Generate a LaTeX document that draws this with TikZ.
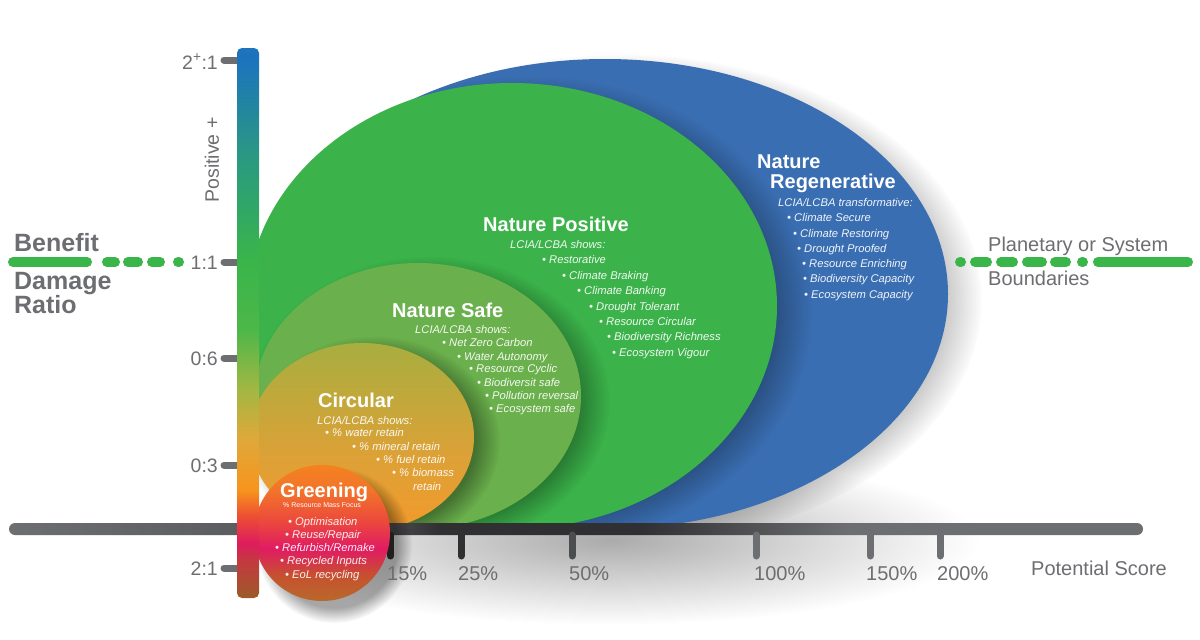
\documentclass[tikz,border=0pt]{standalone}
\usepackage{fontspec}
\setmainfont{Liberation Sans}
\usetikzlibrary{fadings}
\definecolor{axgray}{HTML}{6D6E71}
\definecolor{axdark}{HTML}{303032}
\definecolor{regblue}{HTML}{3A6EB2}
\definecolor{posgreen}{HTML}{3BB34A}
\definecolor{safegreen}{HTML}{6AB04C}
\definecolor{dashgreen}{HTML}{39B54A}
\definecolor{b0}{HTML}{9C5A2A}
\definecolor{b1}{HTML}{C4393F}
\definecolor{b2}{HTML}{DE1C5E}
\definecolor{b3}{HTML}{EE5131}
\definecolor{b4}{HTML}{F7941D}
\definecolor{b5}{HTML}{DFA83A}
\definecolor{b6}{HTML}{A3B743}
\definecolor{b7}{HTML}{4DB749}
\definecolor{b8}{HTML}{39B54A}
\definecolor{b9}{HTML}{2A9A80}
\definecolor{b10}{HTML}{1D74BD}
\definecolor{g0}{HTML}{B8692B}
\definecolor{g1}{HTML}{C6512F}
\definecolor{g2}{HTML}{E01B63}
\definecolor{g3}{HTML}{EC4A3C}
\definecolor{g4}{HTML}{F2742A}
\definecolor{g5}{HTML}{F58220}
\definecolor{c0}{HTML}{F39A2B}
\definecolor{c1}{HTML}{DCA137}
\definecolor{c2}{HTML}{A8AE3F}
\pgfdeclareverticalshading{barshade}{100bp}{color(0bp)=(b0); color(25bp)=(b0); color(28.45bp)=(b1); color(30bp)=(b2); color(32.55bp)=(b3); color(34.8bp)=(b4); color(39.4bp)=(b5); color(43.9bp)=(b6); color(49.4bp)=(b7); color(55.7bp)=(b8); color(64.8bp)=(b9); color(73.9bp)=(b10); color(75bp)=(b10); color(100bp)=(b10)}
\pgfdeclareverticalshading{greenshade}{100bp}{color(0bp)=(g0); color(25bp)=(g0); color(34.3bp)=(g1); color(44.3bp)=(g2); color(54.6bp)=(g3); color(65.7bp)=(g4); color(75bp)=(g5); color(100bp)=(g5)}
\pgfdeclareverticalshading{circshade}{100bp}{color(0bp)=(c0); color(25bp)=(c0); color(45bp)=(c1); color(75bp)=(c2); color(100bp)=(c2)}
\pgfdeclarehorizontalshading{axshade}{100bp}{color(0bp)=(axgray); color(25bp)=(axgray); color(41.4bp)=(axgray!75!black); color(44bp)=(axdark); color(52.8bp)=(axdark); color(62bp)=(axgray); color(75bp)=(axgray); color(100bp)=(axgray)}
\begin{document}
\begin{tikzpicture}[x=1pt,y=-1pt,
  head/.style={font=\fontsize{20}{22}\selectfont\bfseries, text=white, anchor=west, inner sep=0pt},
  item/.style={font=\fontsize{11.2}{13}\selectfont\itshape, text=white, text opacity=.92, anchor=west, inner sep=0pt, text height=8pt, text depth=2pt},
  tinytxt/.style={font=\fontsize{7}{8}\selectfont, text=white, anchor=west, inner sep=0pt},
  ratio/.style={font=\fontsize{19.5}{22}\selectfont, text=axgray, anchor=base east, inner sep=0pt},
  pct/.style={font=\fontsize{20}{22}\selectfont, text=axgray, anchor=base west, inner sep=0pt},
  side/.style={font=\fontsize{20}{22}\selectfont, text=axgray, anchor=base west, inner sep=0pt},
  big/.style={font=\fontsize{25}{28}\selectfont\bfseries, text=axgray, anchor=base west, inner sep=0pt},
  stub/.style={draw=axgray, line width=7pt, line cap=round},
  tick/.style={line width=7pt, line cap=round},
  gline/.style={draw=dashgreen, line width=10pt, line cap=round},
  shadowfx/.style={fill=black, fill opacity=#1, path fading=circle with fuzzy edge 20 percent}
]
\useasboundingbox (0,0) rectangle (1200,640);
\fill[white] (0,0) rectangle (1200,640);

% soft shadow below the axis
\shade[inner color=black!33, outer color=white] (610,540) ellipse (370pt and 85pt);

% nested ellipses
\begin{scope}
\clip (0,0) rectangle (1200,529);
\fill[shadowfx=.40] (622,300) ellipse (360pt and 246pt);
\fill[regblue] (605,294) ellipse (343pt and 235pt);
\fill[shadowfx=.40] (530,312) ellipse (282pt and 236pt);
\fill[posgreen] (512,306) ellipse (265pt and 223pt);
\fill[shadowfx=.35] (430,402) ellipse (180pt and 146pt);
\fill[safegreen] (418,396) ellipse (163pt and 133pt);
\fill[shadowfx=.35] (374,442) ellipse (126pt and 106pt);
\shade[shading=circshade] (362,437) ellipse (112pt and 94pt);
\end{scope}

% horizontal axis
\shade[shading=axshade, rounded corners=6pt] (9,523) rectangle (1143,535);
\draw[tick, draw=axdark] (390.5,535) -- (390.5,556);
\draw[tick, draw=axdark] (461,535) -- (461,556);
\draw[tick, draw=axgray!70!black] (572,535) -- (572,556);
\draw[tick, draw=axgray] (756,535) -- (756,556);
\draw[tick, draw=axgray] (870,535) -- (870,556);
\draw[tick, draw=axgray] (940,535) -- (940,556);

% greening circle
\fill[shadowfx=.35] (334,545) circle (78pt);
\shade[shading=greenshade] (322,533) circle (68pt);

% left stubs and bar
\draw[stub] (224,60) -- (242,60);
\draw[stub] (224,262) -- (242,262);
\draw[stub] (224,358) -- (242,358);
\draw[stub] (224,465) -- (242,465);
\draw[stub] (224,568) -- (242,568);
\shade[shading=barshade, rounded corners=5pt] (237,48) rectangle (259,598);

% dashed boundary lines
\coordinate (dl0) at (13,262);
\coordinate (dl1) at (179,262);
\draw[gline, dash pattern=on 74pt off 20pt on 8pt off 13pt on 10pt off 14pt on 8pt off 18pt on 1pt off 100pt] (dl0) -- (dl1);
\coordinate (dr0) at (960,262);
\coordinate (dr1) at (1188,262);
\draw[gline, dash pattern=on 1pt off 14pt on 12pt off 14pt on 12pt off 14pt on 15pt off 13pt on 11pt off 16pt on 1pt off 15pt on 90pt off 10pt] (dr0) -- (dr1);

% left labels
\node[ratio] (r1) at (218,69) {2\textsuperscript{+}:1};
\node[ratio] (r2) at (218,269) {1:1};
\node[ratio] (r3) at (218,365) {0:6};
\node[ratio] (r4) at (218,472) {0:3};
\node[ratio] (r5) at (218,575) {2:1};
\node[font=\fontsize{19.5}{22}\selectfont, text=axgray, rotate=90, inner sep=0pt] (pos) at (212,160) {Positive +};
\node[big] (ben) at (14,251) {Benefit};
\node[big] (dam) at (14,289) {Damage};
\node[big] (rat) at (14,313) {Ratio};
\node[side] (pl1) at (988,251) {Planetary or System};
\node[side] (pl2) at (988,285) {Boundaries};
\node[side] (ps) at (1031,575) {Potential Score};

% percent labels
\node[pct] (p15) at (387,580) {15\%};
\node[pct] (p25) at (458,580) {25\%};
\node[pct] (p50) at (569,580) {50\%};
\node[pct] (p100) at (754,580) {100\%};
\node[pct] (p150) at (866,580) {150\%};
\node[pct] (p200) at (937,580) {200\%};

% Nature Regenerative
\node[head] (nr1) at (757,162) {Nature};
\node[head] (nr2) at (770,183) {Regenerative};
\node[item] (nr3) at (778,203) {LCIA/LCBA transformative:};
\node[item] (nr4) at (787,218) {• Climate Secure};
\node[item] (nr5) at (793,234) {• Climate Restoring};
\node[item] (nr6) at (797,249) {• Drought Proofed};
\node[item] (nr7) at (802,264) {• Resource Enriching};
\node[item] (nr8) at (803,279) {• Biodiversity Capacity};
\node[item] (nr9) at (804,295) {• Ecosystem Capacity};

% Nature Positive
\node[head] (np1) at (483,224) {Nature Positive};
\node[item] (np2) at (510,245) {LCIA/LCBA shows:};
\node[item] (np3) at (542,260) {• Restorative};
\node[item] (np4) at (562,276) {• Climate Braking};
\node[item] (np5) at (577,291) {• Climate Banking};
\node[item] (np6) at (589,307) {• Drought Tolerant};
\node[item] (np7) at (599,322) {• Resource Circular};
\node[item] (np8) at (607,337) {• Biodiversity Richness};
\node[item] (np9) at (612,353) {• Ecosystem Vigour};

% Nature Safe
\node[head] (ns1) at (392,310) {Nature Safe};
\node[item] (ns2) at (415,330) {LCIA/LCBA shows:};
\node[item] (ns3) at (442,343) {• Net Zero Carbon};
\node[item] (ns4) at (457,357) {• Water Autonomy};
\node[item] (ns5) at (469,369) {• Resource Cyclic};
\node[item] (ns6) at (477,383) {• Biodiversit safe};
\node[item] (ns7) at (485,396) {• Pollution reversal};
\node[item] (ns8) at (489,409) {• Ecosystem safe};

% Circular
\node[head] (nc1) at (318,400) {Circular};
\node[item] (nc2) at (317,421) {LCIA/LCBA shows:};
\node[item] (nc3) at (325,433) {• \% water retain};
\node[item] (nc4) at (352,447) {• \% mineral retain};
\node[item] (nc5) at (376,460) {• \% fuel retain};
\node[item] (nc6) at (392,473) {• \% biomass};
\node[item] (nc7) at (413,487) {retain};

% Greening
\node[head] (ng1) at (280,492) {Greening};
\node[tinytxt] (ng2) at (283,505) {\% Resource Mass Focus};
\node[item] (ng3) at (288,522) {• Optimisation};
\node[item] (ng4) at (285,535) {• Reuse/Repair};
\node[item] (ng5) at (275,548) {• Refurbish/Remake};
\node[item] (ng6) at (280,561) {• Recycled Inputs};
\node[item] (ng7) at (285,575) {• EoL recycling};
\end{tikzpicture}
\end{document}
